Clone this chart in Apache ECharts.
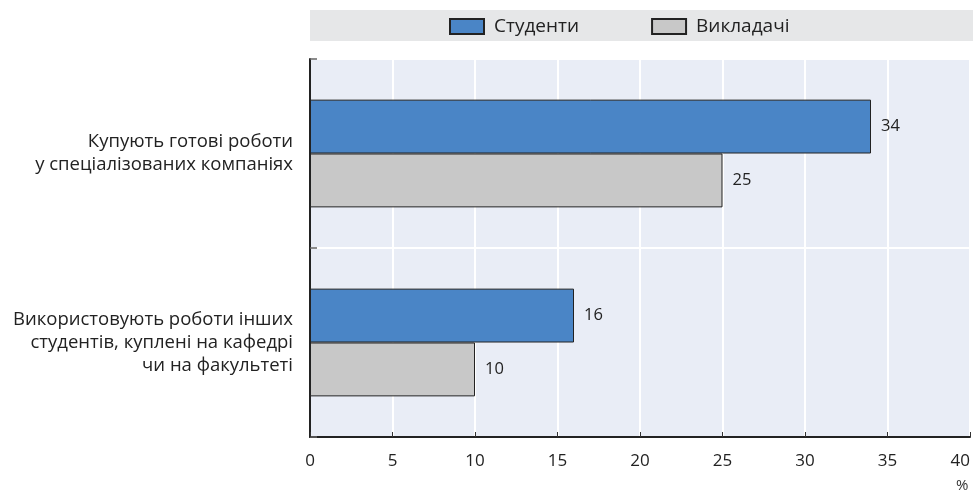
<!DOCTYPE html>
<html>
<head>
<meta charset="utf-8">
<script src="https://cdn.jsdelivr.net/npm/echarts@6/dist/echarts.min.js"></script>
<style>html,body{margin:0;padding:0;background:#fff;}#c{width:973px;height:492px;}</style>
</head>
<body>
<div id="c"></div>
<script>
const categories = ['Купують готові роботи\nу спеціалізованих компаніях', 'Використовують роботи інших\nстудентів, куплені на кафедрі\nчи на факультеті'];
const seriesNames = ['Студенти', 'Викладачі'];
const students = [34, 16];
const teachers = [25, 10];
const xTicks = { min: 0, max: 40, interval: 5 };
const unitLabel = '%';

const FONT = '"Open Sans", "Noto Sans", sans-serif';
const chart = echarts.init(document.getElementById('c'), null, { renderer: 'canvas' });
chart.setOption({
  animation: false,
  textStyle: { fontFamily: FONT },
  graphic: [
    { type: 'rect', shape: { x: 310, y: 10, width: 663, height: 31 }, style: { fill: '#e6e7e8' }, z: -10 },
    { type: 'text', left: 956, top: 478, style: { text: unitLabel, font: '15px ' + FONT, fill: '#333' } }
  ],
  legend: {
    left: 444, top: 12, itemWidth: 34, itemHeight: 15, itemGap: 72,
    icon: 'rect',
    textStyle: { fontSize: 19, color: '#222', fontFamily: FONT, padding: [0, 0, 0, 5] },
    data: seriesNames
  },
  grid: {
    left: 310, right: 3, top: 59, bottom: 55, outerBoundsMode: 'none', containLabel: false,
    show: true, backgroundColor: '#e9edf6', borderColor: '#333', borderWidth: 1
  },
  xAxis: {
    type: 'value', min: xTicks.min, max: xTicks.max, interval: xTicks.interval,
    axisLine: { show: true, lineStyle: { color: '#222', width: 2 } },
    axisTick: { show: true, inside: true, length: 5, lineStyle: { color: '#333' } },
    splitLine: { show: true, lineStyle: { color: '#ffffff', width: 2 } },
    axisLabel: { fontSize: 17, color: '#222', margin: 16, fontFamily: FONT, alignMaxLabel: 'right' }
  },
  yAxis: {
    type: 'category', inverse: true, data: categories,
    axisLine: { show: true, lineStyle: { color: '#222', width: 2 } },
    axisTick: { show: true, inside: true, length: 7, lineStyle: { color: '#666', width: 1.5 } },
    splitLine: { show: true, lineStyle: { color: '#ffffff', width: 2 } },
    axisLabel: { fontSize: 18.5, color: '#222', margin: 17, lineHeight: 23, align: 'right', fontFamily: FONT }
  },
  series: [
    {
      name: seriesNames[0], type: 'bar', data: students,
      barGap: '0%', barCategoryGap: '43%',
      itemStyle: { color: '#4a85c6', borderColor: '#222', borderWidth: 1 },
      label: { show: true, position: 'right', distance: 10, fontSize: 16.5, color: '#222', fontFamily: FONT }
    },
    {
      name: seriesNames[1], type: 'bar', data: teachers,
      barGap: '0%', barCategoryGap: '43%',
      itemStyle: { color: '#c8c8c8', borderColor: '#222', borderWidth: 1 },
      label: { show: true, position: 'right', distance: 10, fontSize: 16.5, color: '#222', fontFamily: FONT }
    }
  ]
});
</script>
</body>
</html>
